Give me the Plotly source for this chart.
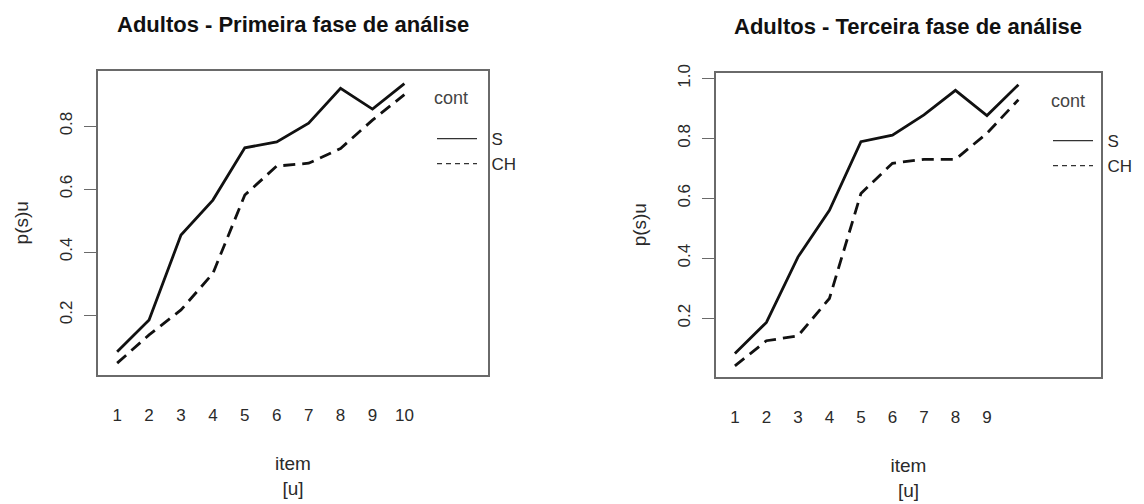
import plotly.graph_objects as go

items = [1, 2, 3, 4, 5, 6, 7, 8, 9, 10]

# Painel 1 - Primeira fase
s_fase1 = [0.083, 0.184, 0.454, 0.565, 0.731, 0.750, 0.809, 0.920, 0.854, 0.935]
ch_fase1 = [0.047, 0.137, 0.216, 0.332, 0.581, 0.673, 0.682, 0.729, 0.819, 0.900]

# Painel 2 - Terceira fase
s_fase3 = [0.082, 0.186, 0.404, 0.560, 0.789, 0.811, 0.878, 0.960, 0.876, 0.979]
ch_fase3 = [0.041, 0.125, 0.141, 0.266, 0.616, 0.717, 0.730, 0.730, 0.817, 0.929]

titles = ["Adultos - Primeira fase de análise", "Adultos - Terceira fase de análise"]
xticks1 = [1, 2, 3, 4, 5, 6, 7, 8, 9, 10]
xticks2 = [1, 2, 3, 4, 5, 6, 7, 8, 9]
yticks1 = [0.2, 0.4, 0.6, 0.8]
yticks2 = [0.2, 0.4, 0.6, 0.8, 1.0]
legend_title = "cont"
legend_names = ["S", "CH"]

FONT = "Liberation Sans, Arial, sans-serif"
TXT = "#2a2a2a"
BOX = "#6a6a6a"
LINE = "#111111"
NB = "\u00a0\u00a0"

fig = go.Figure()

panels = [
    ("x", "y", "legend", s_fase1, ch_fase1),
    ("x2", "y2", "legend2", s_fase3, ch_fase3),
]
for xa, ya, lg, s, ch in panels:
    fig.add_trace(go.Scatter(x=items, y=s, xaxis=xa, yaxis=ya, mode="lines",
                             line=dict(color=LINE, width=2.8), showlegend=False))
    fig.add_trace(go.Scatter(x=items, y=ch, xaxis=xa, yaxis=ya, mode="lines",
                             line=dict(color=LINE, width=2.8, dash="12px,7px"),
                             showlegend=False))
    # legend entries (thin lines as in the original)
    fig.add_trace(go.Scatter(x=[None], y=[None], xaxis=xa, yaxis=ya, mode="lines",
                             name=NB + legend_names[0], legend=lg,
                             line=dict(color="#333333", width=1.2)))
    fig.add_trace(go.Scatter(x=[None], y=[None], xaxis=xa, yaxis=ya, mode="lines",
                             name=NB + legend_names[1], legend=lg,
                             line=dict(color="#333333", width=1.2, dash="5px,4px")))

common_x = dict(
    range=[0.4, 12.62], showgrid=False, zeroline=False, showline=True, mirror=True,
    automargin=False,
    linecolor=BOX, linewidth=1.6, ticks="", ticklabelstandoff=24,
    tickfont=dict(family=FONT, size=17, color=TXT),
    title=dict(text="item<br>[u]", font=dict(family=FONT, size=19, color=TXT), standoff=33),
)
common_y = dict(
    showgrid=False, zeroline=False, showline=True, mirror=True,
    automargin=False,
    linecolor=BOX, linewidth=1.6, ticks="outside", ticklen=12, tickcolor=BOX, tickwidth=1.4,
    tickangle=-90, ticklabelstandoff=5, tickformat=".1f",
    tickfont=dict(family=FONT, size=17, color=TXT),
    title=dict(text="p(s)u", font=dict(family=FONT, size=19, color=TXT), standoff=24),
)

legend_common = dict(xanchor="left", yanchor="top", bgcolor="rgba(0,0,0,0)", borderwidth=0,
                     font=dict(family=FONT, size=17, color=TXT), itemwidth=40, tracegroupgap=0)

fig.update_layout(
    width=1144, height=504,
    margin=dict(l=0, r=0, t=0, b=0, autoexpand=False),
    paper_bgcolor="white", plot_bgcolor="white",
    xaxis=dict(common_x, domain=[98 / 1144, 488 / 1144], tickvals=xticks1, anchor="y"),
    yaxis=dict(common_y, domain=[(504 - 374.5) / 504, (504 - 71) / 504],
               range=[0.011, 0.975], tickvals=yticks1, anchor="x"),
    xaxis2=dict(common_x, domain=[716 / 1144, 1101 / 1144], tickvals=xticks2, anchor="y2"),
    yaxis2=dict(common_y, domain=[(504 - 376.7) / 504, (504 - 72.7) / 504],
                range=[0.005, 1.019], tickvals=yticks2, anchor="x2"),
    legend=dict(legend_common, x=432 / 1144, y=1 - 121 / 504),
    legend2=dict(legend_common, x=1048 / 1144, y=1 - 123 / 504),
    annotations=[
        dict(text="<b>" + titles[0] + "</b>", x=293 / 1144, y=1 - 24 / 504, xref="paper", yref="paper",
             showarrow=False, xanchor="center", yanchor="middle",
             font=dict(family=FONT, size=22, color="#111")),
        dict(text="<b>" + titles[1] + "</b>", x=908 / 1144, y=1 - 26 / 504, xref="paper", yref="paper",
             showarrow=False, xanchor="center", yanchor="middle",
             font=dict(family=FONT, size=22, color="#111")),
        dict(text=legend_title, x=432 / 1144, y=1 - 98 / 504, xref="paper", yref="paper",
             showarrow=False, xanchor="left", yanchor="middle",
             font=dict(family=FONT, size=18, color="#444")),
        dict(text=legend_title, x=1049 / 1144, y=1 - 101 / 504, xref="paper", yref="paper",
             showarrow=False, xanchor="left", yanchor="middle",
             font=dict(family=FONT, size=18, color="#444")),
    ],
)

fig.write_html("out.html")
